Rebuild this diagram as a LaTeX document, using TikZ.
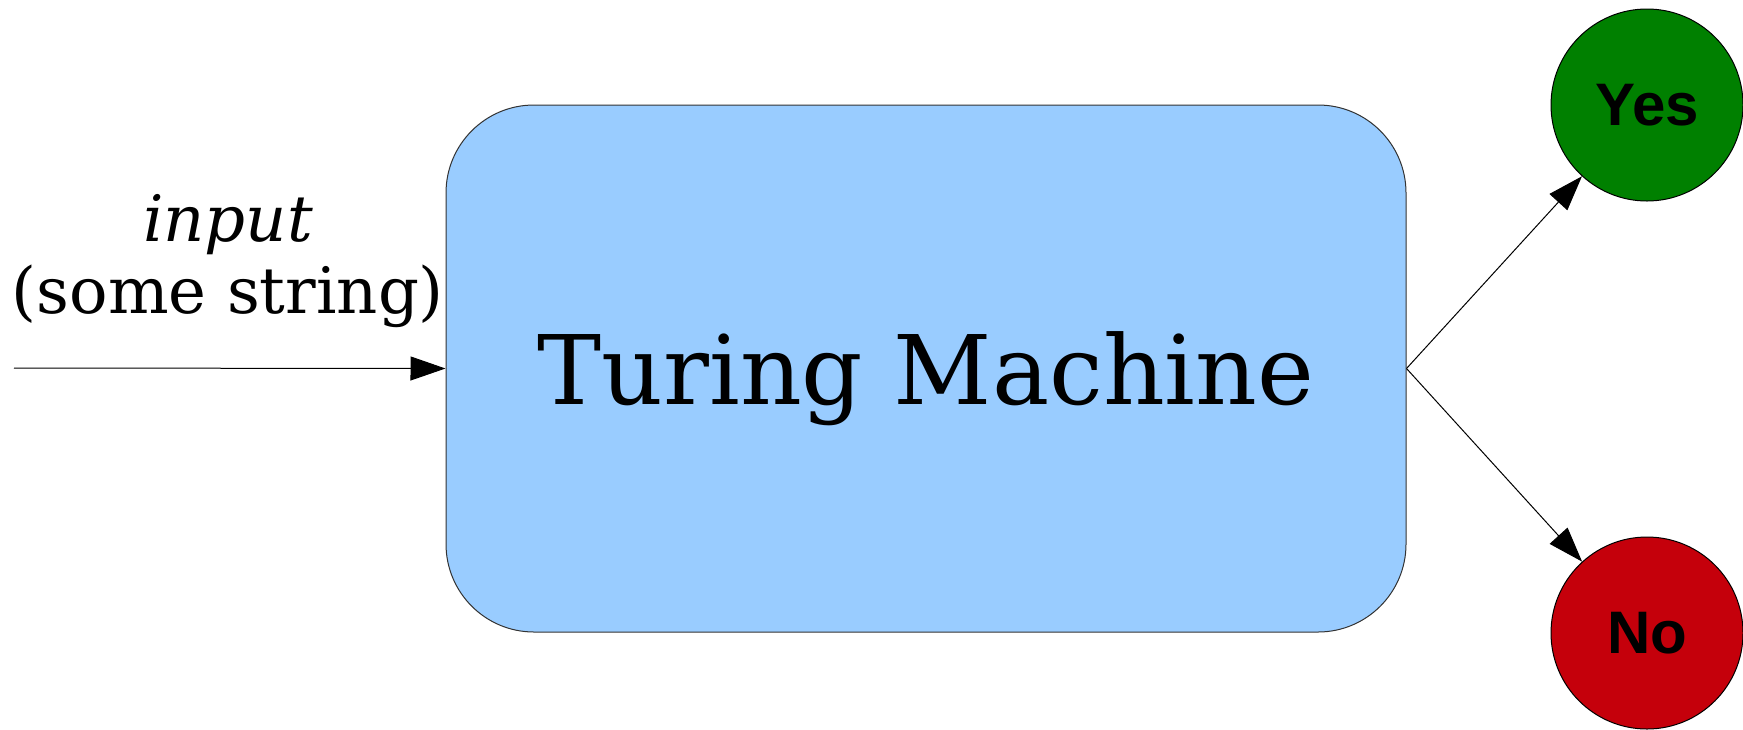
\documentclass[tikz,border=0pt]{standalone}
\usepackage{fontspec}
\setmainfont{DejaVu Serif}
\newfontfamily\answerfont{Liberation Sans}
\usepackage{xcolor}
\usepackage{tikz}
\usetikzlibrary{positioning,arrows.meta}
\definecolor{machineblue}{HTML}{99CCFF}
\definecolor{yesgreen}{HTML}{008000}
\definecolor{nored}{HTML}{C5000B}

\begin{document}
\begin{tikzpicture}[x=0.5pt,y=-0.5pt,
    machine/.style={draw=black!80, line width=0.5pt, fill=machineblue, rounded corners=44pt,
      minimum width=480pt, minimum height=263.5pt, inner sep=0pt, text depth=0pt,
      font=\fontsize{48}{56}\selectfont},
    answer/.style={circle, draw=black, line width=0.5pt, minimum size=96pt, inner sep=0pt,
      font=\answerfont\bfseries\fontsize{30}{34}\selectfont},
    inlabel/.style={font=\fontsize{32}{38}\selectfont, inner sep=0pt, anchor=base},
    flow/.style={-{Triangle[length=17.5pt,width=12pt,black]}, line width=0.5pt, draw=black}]
  \useasboundingbox (0,0) rectangle (1743,729);
  \node[machine] (tm) at (926,368.5) {Turing Machine};
  \node[answer, fill=yesgreen] (yes) at (1647,105) {Yes};
  \node[answer, fill=nored] (no) at (1647,633) {No};
  \coordinate (src) at (14,368);
  \node[inlabel] (inword) at (228,241) {\textit{input}};
  \node[inlabel] (instring) at (228,313) {(some string)};
  \draw[flow] (src) -- (tm.west);
  \draw[flow] (tm.east) -- (yes);
  \draw[flow] (tm.east) -- (no);
\end{tikzpicture}
\end{document}
